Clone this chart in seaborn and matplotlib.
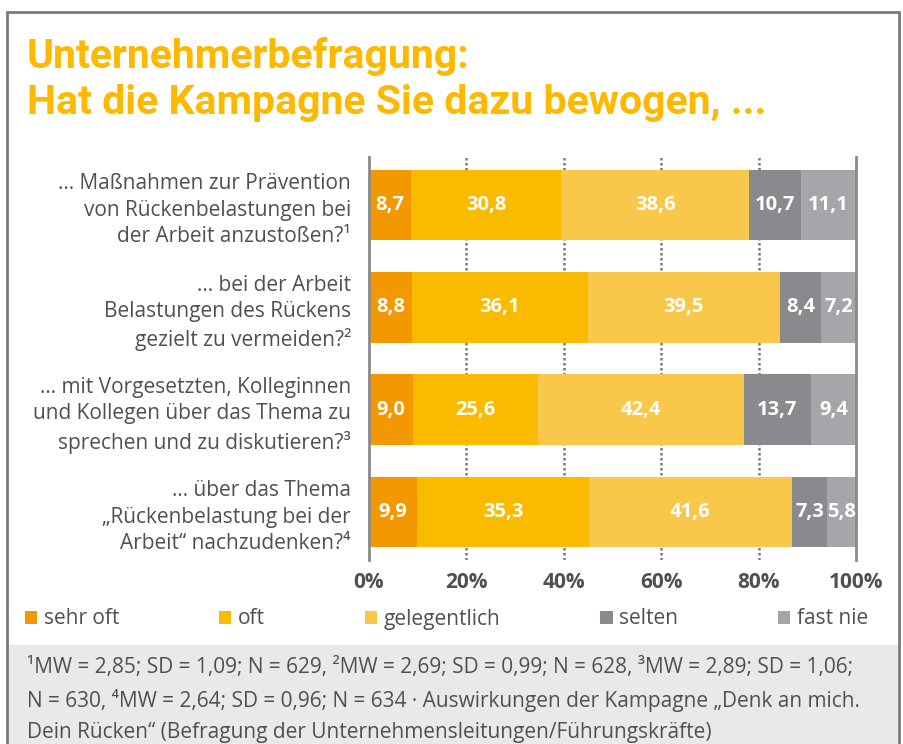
import numpy as np
import pandas as pd
import matplotlib
matplotlib.use('Agg')
import matplotlib.pyplot as plt
import seaborn as sns
from matplotlib.patches import Rectangle, Patch

# Daten
questions = [
    "... Maßnahmen zur Prävention\nvon Rückenbelastungen bei\nder Arbeit anzustoßen?¹",
    "... bei der Arbeit\nBelastungen des Rückens\ngezielt zu vermeiden?²",
    "... mit Vorgesetzten, Kolleginnen\nund Kollegen über das Thema zu\nsprechen und zu diskutieren?³",
    "... über das Thema\n„Rückenbelastung bei der\nArbeit“ nachzudenken?⁴",
]
categories = ["sehr oft", "oft", "gelegentlich", "selten", "fast nie"]
sehr_oft = [8.7, 8.8, 9.0, 9.9]
oft = [30.8, 36.1, 25.6, 35.3]
gelegentlich = [38.6, 39.5, 42.4, 41.6]
selten = [10.7, 8.4, 13.7, 7.3]
fast_nie = [11.1, 7.2, 9.4, 5.8]
x_ticks = [0, 20, 40, 60, 80, 100]
title_lines = ["Unternehmerbefragung:", "Hat die Kampagne Sie dazu bewogen, ..."]

colors = ["#F39800", "#F9BA00", "#F9C84A", "#8C898E", "#A7A5A9"]
text_grey = "#505050"
title_col = "#FCB900"

df = pd.DataFrame({"frage": questions, "sehr oft": sehr_oft, "oft": oft,
                   "gelegentlich": gelegentlich, "selten": selten, "fast nie": fast_nie})
cum = df[categories].cumsum(axis=1)

sns.set_style("white")
plt.rcParams['font.family'] = ['Open Sans', 'DejaVu Sans']

fig = plt.figure(figsize=(9.04, 7.44), dpi=100)
ax = fig.add_axes([369 / 904, 1 - 560 / 744, 487 / 904, 403 / 744])

# gestapelte Balken: von rechts nach links zeichnen
for cat, col in reversed(list(zip(categories, colors))):
    sns.barplot(x=cum[cat], y=df["frage"], color=col, orient="h", width=0.69,
                ax=ax, zorder=2, saturation=1, linewidth=0)

# Werte in den Segmenten
for i in range(len(questions)):
    left = 0
    for cat in categories:
        v = df.loc[i, cat]
        ax.text(left + v / 2, i, f"{v:.1f}".replace(".", ","), ha="center", va="center",
                color="white", fontsize=14.5, fontweight="bold", zorder=3)
        left += v

ax.set_xlim(0, 100)
ax.set_ylim(3.47, -0.47)
ax.set_xticks(x_ticks)
ax.set_xticklabels([f"{t}%" for t in x_ticks], fontsize=15, fontweight="bold", color=text_grey)
ax.tick_params(axis="x", length=0, pad=9)
ax.tick_params(axis="y", length=0, pad=13)
for lbl in ax.get_yticklabels():
    lbl.set_fontsize(15)
    lbl.set_color(text_grey)
    lbl.set_linespacing(1.35)
    lbl.set_ha("right")
ax.set_xlabel("")
ax.set_ylabel("")
for t in [20, 40, 60, 80]:
    ax.axvline(t, color="#7a7a7a", linestyle=(0, (1, 1)), linewidth=1.8, zorder=1)
for s in ["top", "bottom"]:
    ax.spines[s].set_visible(False)
for s in ["left", "right"]:
    ax.spines[s].set_color("#8a8a8a")
    ax.spines[s].set_linewidth(2)

# Titel
for k, (line, base) in enumerate(zip(title_lines, [68, 114])):
    fig.text(27 / 904, 1 - base / 744, line, fontsize=29.5, fontweight="bold", color=title_col,
             va="baseline", ha="left", family=['Roboto', 'DejaVu Sans'])

# Legende
handles = [Patch(facecolor=c, edgecolor="none") for c in colors]
fig.legend(handles, categories, loc="center left", bbox_to_anchor=(6 / 904, 1 - 619 / 744),
           ncol=5, frameon=False, fontsize=15, handlelength=0.6, handleheight=0.6,
           handletextpad=0.3, columnspacing=4.8, labelcolor=text_grey)

# Fußnote
fig.patches.append(Rectangle((8 / 904, 0), 890 / 904, 1 - 645 / 744, transform=fig.transFigure,
                             facecolor="#E9E9EA", edgecolor="none", zorder=0))
footer = ("¹MW = 2,85; SD = 1,09; N = 629, ²MW = 2,69; SD = 0,99; N = 628, ³MW = 2,89; SD = 1,06;\n"
          "N = 630, ⁴MW = 2,64; SD = 0,96; N = 634 · Auswirkungen der Kampagne „Denk an mich.\n"
          "Dein Rücken“ (Befragung der Unternehmensleitungen/Führungskräfte)")
fig.text(27 / 904, 1 - 657 / 744, footer, fontsize=15, color=text_grey, va="top", ha="left",
         linespacing=1.62)

# Rahmen
fig.patches.append(Rectangle((7 / 904, -0.02), 892 / 904, 1.02 - 12 / 744, transform=fig.transFigure,
                             facecolor="none", edgecolor="#7a7a7a", linewidth=2, zorder=5))

fig.savefig("out.png", dpi=100)
